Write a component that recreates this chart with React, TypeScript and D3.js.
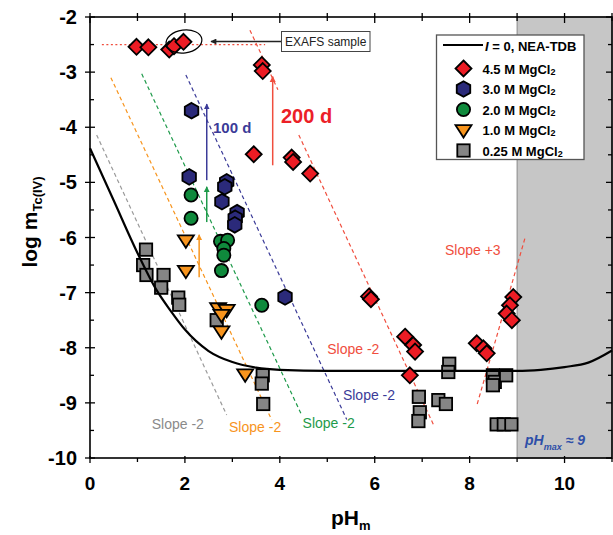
import React from "react";
import * as d3 from "d3";

// ---- data ----
const mg45: [number, number][] = [
  [0.98, -2.54], [1.23, -2.55], [1.67, -2.59], [1.77, -2.53], [1.97, -2.45],
  [3.62, -2.87], [3.64, -2.98],
  [3.45, -4.49], [4.25, -4.55], [4.28, -4.63], [4.64, -4.84],
  [5.88, -7.07], [5.92, -7.12],
  [6.64, -7.80], [6.81, -7.95], [6.85, -8.07], [6.74, -8.50],
  [8.15, -7.92], [8.29, -8.01], [8.36, -8.10],
  [8.92, -7.08], [8.85, -7.23], [8.78, -7.38], [8.89, -7.50],
];
const mg30: [number, number][] = [
  [2.14, -3.70], [2.09, -4.90], [2.88, -4.99], [2.84, -5.08], [2.78, -5.35],
  [3.10, -5.55], [3.06, -5.65], [3.05, -5.77], [4.11, -7.08],
];
const mg20: [number, number][] = [
  [2.13, -5.23], [2.13, -5.65], [2.75, -6.07], [2.90, -6.05], [2.82, -6.20],
  [2.82, -6.32], [2.77, -6.60], [3.62, -7.23],
];
const mg10: [number, number][] = [
  [2.02, -6.05], [2.02, -6.60], [2.70, -7.28], [2.88, -7.31], [2.77, -7.40],
  [2.77, -7.70], [3.27, -8.48],
];
const mg025: [number, number][] = [
  [1.18, -6.22], [1.12, -6.50], [1.19, -6.68], [1.55, -6.68], [1.50, -6.91],
  [1.86, -7.09], [1.88, -7.22], [2.67, -7.50], [3.64, -8.50], [3.62, -8.65],
  [3.65, -9.02], [6.93, -8.89], [6.95, -9.17], [6.92, -9.33], [7.34, -8.95],
  [7.50, -9.02], [7.57, -8.29], [7.55, -8.44], [8.49, -8.50], [8.53, -8.62],
  [8.49, -8.68], [8.77, -8.50], [8.57, -9.39], [8.72, -9.39], [8.88, -9.39],
];
const neaCurve: [number, number][] = [
  [0, -4.38], [0.5, -5.33], [1.0, -6.28], [1.4, -6.95], [1.7, -7.33], [2.0, -7.67],
  [2.5, -8.06], [3.0, -8.26], [3.5, -8.36], [4.0, -8.40], [5.0, -8.42], [7.0, -8.42],
  [9.0, -8.42], [9.5, -8.40], [10.0, -8.35], [10.5, -8.27], [11.0, -8.05],
];
const slopeLines = [
  { color: "#9a9a9a", from: [0.14, -4.14], to: [2.88, -9.22] },
  { color: "#f7941d", from: [0.44, -3.10], to: [3.83, -9.31] },
  { color: "#1e9a4a", from: [1.09, -3.03], to: [4.46, -9.22] },
  { color: "#3b3b98", from: [2.02, -3.05], to: [5.41, -9.30] },
  { color: "#f04e3e", from: [3.37, -2.24], to: [3.96, -3.32] },
  { color: "#f04e3e", from: [4.40, -4.14], to: [7.24, -9.40] },
  { color: "#f04e3e", from: [8.16, -9.02], to: [9.17, -6.0] },
];
const exafsLine = { from: [0.25, -2.5], to: [3.69, -2.5] };
const arrows = [
  { color: "#3b3b98", x: 2.46, y0: -4.96, y1: -3.58 },
  { color: "#1e9a4a", x: 2.46, y0: -5.72, y1: -5.08 },
  { color: "#f7941d", x: 2.30, y0: -6.72, y1: -5.95 },
  { color: "#f04e3e", x: 3.85, y0: -4.69, y1: -3.08 },
];
const slopeLabels = [
  { text: "Slope -2", color: "#8a8a8a", x: 1.3, y: -9.48 },
  { text: "Slope -2", color: "#f7941d", x: 2.93, y: -9.52 },
  { text: "Slope -2", color: "#1e9a4a", x: 4.48, y: -9.46 },
  { text: "Slope -2", color: "#3b3b98", x: 5.33, y: -8.95 },
  { text: "Slope -2", color: "#f04e3e", x: 5.0, y: -8.11 },
  { text: "Slope +3", color: "#f04e3e", x: 7.48, y: -6.32 },
];
const xTicks = [0, 2, 4, 6, 8, 10];
const yTicks = [-2, -3, -4, -5, -6, -7, -8, -9, -10];

const W = 613, H = 535;
const x = d3.scaleLinear().domain([0, 11]).range([90, 612]);
const y = d3.scaleLinear().domain([-10, -2]).range([458, 17]);

const FONT = "Arial, 'Liberation Sans', Helvetica, sans-serif";
const RED = "#ec1c24", NAVY = "#2b2a7a", GREEN = "#0f8a3c", ORANGE = "#f7941d", GRAY = "#858585";

function Marker({ kind, cx, cy, fill }: { kind: string; cx: number; cy: number; fill: string }) {
  const sw = 1.8;
  if (kind === "diamond") {
    const r = 8;
    return <path d={`M${cx},${cy - r}L${cx + r},${cy}L${cx},${cy + r}L${cx - r},${cy}Z`} fill={fill} stroke="#000" strokeWidth={sw} strokeLinejoin="miter" />;
  }
  if (kind === "hex") {
    const r = 7.8;
    const pts = d3.range(6).map((i) => {
      const a = (Math.PI / 3) * i - Math.PI / 2;
      return [cx + r * Math.cos(a), cy + r * Math.sin(a)];
    });
    return <path d={"M" + pts.map((p) => p.join(",")).join("L") + "Z"} fill={fill} stroke="#000" strokeWidth={sw} />;
  }
  if (kind === "circle") {
    return <circle cx={cx} cy={cy} r={6.6} fill={fill} stroke="#000" strokeWidth={sw} />;
  }
  if (kind === "tri") {
    const r = 8;
    return <path d={`M${cx - r},${cy - r * 0.6}L${cx + r},${cy - r * 0.6}L${cx},${cy + r * 0.95}Z`} fill={fill} stroke="#000" strokeWidth={sw} strokeLinejoin="miter" />;
  }
  const s = 6.2;
  return <rect x={cx - s} y={cy - s} width={2 * s} height={2 * s} fill={fill} stroke="#000" strokeWidth={sw} />;
}

export default function App() {
  const line = d3.line<[number, number]>().x((d) => x(d[0])).y((d) => y(d[1])).curve(d3.curveMonotoneX);
  const minorX = d3.range(0, 11.01, 1);
  const minorY = d3.range(-10, -1.99, 0.5);
  const legendItems = [
    { kind: "diamond", fill: RED, label: "4.5" },
    { kind: "hex", fill: NAVY, label: "3.0" },
    { kind: "circle", fill: GREEN, label: "2.0" },
    { kind: "tri", fill: ORANGE, label: "1.0" },
    { kind: "square", fill: GRAY, label: "0.25" },
  ];
  const series: { kind: string; fill: string; data: [number, number][] }[] = [
    { kind: "square", fill: GRAY, data: mg025 },
    { kind: "tri", fill: ORANGE, data: mg10 },
    { kind: "circle", fill: GREEN, data: mg20 },
    { kind: "hex", fill: NAVY, data: mg30 },
    { kind: "diamond", fill: RED, data: mg45 },
  ];
  return (
    <svg width={W} height={H} style={{ position: "absolute", left: 0, top: 0, background: "#fff" }} fontFamily={FONT}>
      <defs>
        {arrows.map((a, i) => (
          <marker key={i} id={`ah${i}`} viewBox="0 0 10 10" refX="9" refY="5" markerWidth="4" markerHeight="6" markerUnits="strokeWidth" orient="auto">
            <path d="M0,0L10,5L0,10Z" fill={a.color} />
          </marker>
        ))}
        <marker id="ahk" viewBox="0 0 10 10" refX="9" refY="5" markerWidth="9" markerHeight="6" markerUnits="userSpaceOnUse" orient="auto">
          <path d="M0,0L10,5L0,10Z" fill="#222" />
        </marker>
      </defs>
      {/* shaded region */}
      <rect x={x(9)} y={y(-2)} width={x(11) - x(9)} height={y(-10) - y(-2)} fill="#c6c6c6" stroke="#8a8a8a" strokeWidth={1} />

      {/* slope lines */}
      {slopeLines.map((s, i) => (
        <line key={i} x1={x(s.from[0])} y1={y(s.from[1])} x2={x(s.to[0])} y2={y(s.to[1])} stroke={s.color} strokeWidth={1.2} strokeDasharray="4,3" />
      ))}
      <line x1={x(exafsLine.from[0])} y1={y(exafsLine.from[1])} x2={x(exafsLine.to[0])} y2={y(exafsLine.to[1])} stroke="#f04e3e" strokeWidth={1.2} strokeDasharray="2,2.5" />

      {/* arrows */}
      {arrows.map((a, i) => (
        <line key={i} x1={x(a.x)} y1={y(a.y0)} x2={x(a.x)} y2={y(a.y1)} stroke={a.color} strokeWidth={1.5} markerEnd={`url(#ah${i})`} />
      ))}

      {/* markers */}
      {series.slice(0, 1).map((s) =>
        s.data.map((d, j) => <Marker key={s.kind + j} kind={s.kind} cx={x(d[0])} cy={y(d[1])} fill={s.fill} />)
      )}
      <path d={line(neaCurve) || ""} fill="none" stroke="#000" strokeWidth={2.2} />
      {series.slice(1).map((s) =>
        s.data.map((d, j) => <Marker key={s.kind + j} kind={s.kind} cx={x(d[0])} cy={y(d[1])} fill={s.fill} />)
      )}

      {/* EXAFS annotation */}
      <ellipse cx={184} cy={41.5} rx={18} ry={11.5} fill="none" stroke="#000" strokeWidth={1.2} transform="rotate(-8 184 41.5)" />
      <line x1={281} y1={41.5} x2={211} y2={41.5} stroke="#222" strokeWidth={1.3} markerEnd="url(#ahk)" />
      <rect x={281.5} y={31.5} width={88.5} height={20} fill="#fff" stroke="#444" strokeWidth={1} />
      <text x={325.7} y={46} fontSize={12} textAnchor="middle" fill="#222">EXAFS sample</text>

      {/* arrow labels */}
      <text x={213} y={133} fontSize={15} fontWeight="bold" fill="#3b3b98">100 d</text>
      <text x={281} y={123} fontSize={20} fontWeight="bold" fill="#ec2027">200 d</text>

      {/* slope labels */}
      {slopeLabels.map((s, i) => (
        <text key={i} x={x(s.x)} y={y(s.y)} fontSize={14} fill={s.color}>{s.text}</text>
      ))}
      <text x={525} y={445} fontSize={14} fontWeight="bold" fontStyle="italic" fill="#2e4fa8">
        pH<tspan fontSize={9} dy={5}>max</tspan><tspan dy={-5} fontSize={14}> ≈ 9</tspan>
      </text>

      {/* frame */}
      <rect x={x(0)} y={y(-2)} width={x(11) - x(0)} height={y(-10) - y(-2)} fill="none" stroke="#000" strokeWidth={1.6} />

      {/* ticks */}
      {minorX.map((v) => {
        const major = v % 2 === 0;
        const len = major ? 6 : 4;
        return (
          <g key={"xt" + v}>
            <line x1={x(v)} x2={x(v)} y1={y(-10) + (major ? 5 : 4)} y2={y(-10) - (major ? 2 : 0)} stroke="#000" strokeWidth={1.3} />
            <line x1={x(v)} x2={x(v)} y1={y(-2) - 4} y2={y(-2) + len} stroke="#000" strokeWidth={1.3} />
          </g>
        );
      })}
      {minorY.map((v) => {
        const major = Math.abs(v - Math.round(v)) < 1e-6;
        return (
          <g key={"yt" + v}>
            <line x1={x(0) - (major ? 5 : 0)} x2={x(0) + (major ? 5 : 4)} y1={y(v)} y2={y(v)} stroke="#000" strokeWidth={1.3} />
            <line x1={x(11) - (major ? 6 : 4)} x2={x(11)} y1={y(v)} y2={y(v)} stroke="#000" strokeWidth={1.3} />
          </g>
        );
      })}
      {xTicks.map((v) => (
        <text key={"xl" + v} x={x(v)} y={490} fontSize={19} fontWeight="bold" textAnchor="middle">{v}</text>
      ))}
      {yTicks.map((v) => (
        <text key={"yl" + v} x={77} y={y(v) + 7} fontSize={20} fontWeight="bold" textAnchor="end">{v}</text>
      ))}

      {/* axis titles */}
      <text x={331} y={525} fontSize={21} fontWeight="bold">
        pH<tspan fontSize={13} dy={5}>m</tspan>
      </text>
      <text transform="translate(37,222) rotate(-90)" fontSize={21} fontWeight="bold" textAnchor="middle">
        log m<tspan fontSize={13} dy={5}>Tc(IV)</tspan>
      </text>

      {/* legend */}
      <rect x={436.5} y={35} width={147.5} height={124.5} fill="#fff" stroke="#555" strokeWidth={1.3} />
      <line x1={443} x2={483} y1={45} y2={45} stroke="#000" strokeWidth={2.2} />
      <text x={485} y={50.5} fontSize={13} fontWeight="bold">
        <tspan fontStyle="italic">I</tspan> = 0, NEA-TDB
      </text>
      {legendItems.map((it, i) => {
        const cy = 68.5 + i * 20.5;
        return (
          <g key={"lg" + i}>
            <Marker kind={it.kind} cx={463.5} cy={cy} fill={it.fill} />
            <text x={482.5} y={cy + 5} fontSize={13} fontWeight="bold">
              {it.label} M MgCl<tspan fontSize={9} dy={1}>2</tspan>
            </text>
          </g>
        );
      })}
    </svg>
  );
}
